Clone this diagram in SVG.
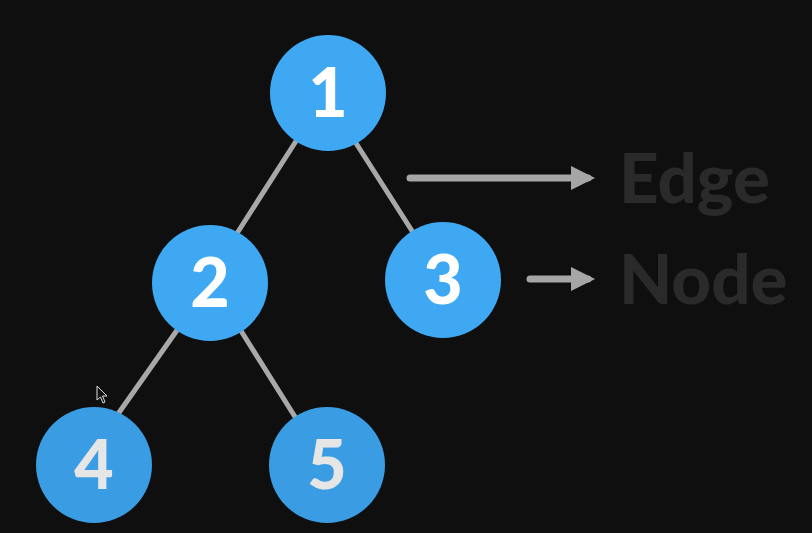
<svg xmlns="http://www.w3.org/2000/svg" width="812" height="533" viewBox="0 0 812 533">
<style>
.node{fill:#3ea8f3}
.nodeb{fill:#3a9ce2}
.num{font-family:Lato,"Liberation Sans",sans-serif;font-weight:900;font-size:68px;fill:#ffffff;text-anchor:middle}
.numb{fill:#e6e6e6}
.edge{stroke:#a8a8a8;stroke-width:5;stroke-linecap:round}
.arr{stroke:#a6a6a6;stroke-width:7;stroke-linecap:round}
.lbl{font-family:Lato,"Liberation Sans",sans-serif;font-weight:900;font-size:69px;fill:#2a2a2a}
</style>
<defs>
<marker id="ah" markerWidth="3.5" markerHeight="3.5" refX="2.5" refY="1.75" orient="auto" markerUnits="strokeWidth">
<path d="M0,0 L3.5,1.75 L0,3.5 Z" fill="#a6a6a6"/>
</marker>
</defs>
<rect width="812" height="533" fill="#0f0f0f"/>
<g id="connectors">
<line class="edge" x1="298" y1="138" x2="234" y2="238"/>
<line class="edge" x1="354" y1="140" x2="414" y2="234"/>
<line class="edge" x1="180" y1="326" x2="118" y2="414"/>
<line class="edge" x1="238" y1="326" x2="297" y2="420"/>
<line class="arr" x1="410" y1="178" x2="588" y2="178" marker-end="url(#ah)"/>
<line class="arr" x1="530" y1="279" x2="588" y2="279" marker-end="url(#ah)"/>
</g>
<g id="node1"><circle class="node" cx="328" cy="93" r="58"/><text class="num" x="328" y="117">1</text></g>
<g id="node2"><circle class="node" cx="210" cy="283" r="58"/><text class="num" x="210" y="307">2</text></g>
<g id="node3"><circle class="node" cx="443" cy="280" r="58"/><text class="num" x="443" y="304">3</text></g>
<g id="node4"><circle class="nodeb" cx="94" cy="465" r="58"/><text class="num numb" x="94" y="489">4</text></g>
<g id="node5"><circle class="nodeb" cx="327" cy="465" r="58"/><text class="num numb" x="327" y="489">5</text></g>
<g id="labels">
<text class="lbl" x="619" y="203">Edge</text>
<text class="lbl" x="619" y="304">Node</text>
</g>
<path d="M97,386 L97,400 L100.5,397 L103,403 L105,402 L102.5,396 L107,396 Z" fill="#111" stroke="#ddd" stroke-width="1"/>
</svg>
